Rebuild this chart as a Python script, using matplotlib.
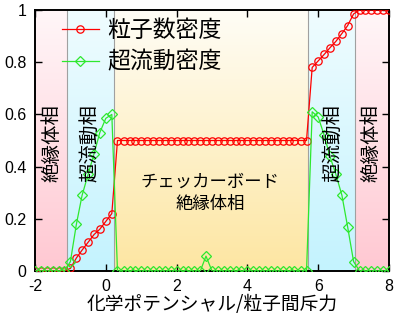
import numpy as np
import matplotlib
matplotlib.use("Agg")
import matplotlib.pyplot as plt
from matplotlib.colors import to_rgb

#  DATA
mu = [-2.00, -1.83, -1.67, -1.50, -1.33, -1.17, -1.00, -0.83, -0.67, -0.50,
      -0.33, -0.17, 0.00, 0.17, 0.33, 0.50, 0.67, 0.83, 1.00, 1.17,
      1.33, 1.50, 1.67, 1.83, 2.00, 2.17, 2.33, 2.50, 2.67, 2.83,
      3.00, 3.17, 3.33, 3.50, 3.67, 3.83, 4.00, 4.17, 4.33, 4.50,
      4.67, 4.83, 5.00, 5.17, 5.33, 5.50, 5.67, 5.83, 6.00, 6.17,
      6.33, 6.50, 6.67, 6.83, 7.00, 7.17, 7.33, 7.50, 7.67, 7.83, 8.00]

density = [0, 0, 0, 0, 0, 0,
           0.01, 0.05, 0.08, 0.11, 0.14, 0.16, 0.19, 0.22,
           0.5, 0.5, 0.5, 0.5, 0.5, 0.5, 0.5, 0.5, 0.5, 0.5, 0.5,
           0.5, 0.5, 0.5, 0.5, 0.5, 0.5, 0.5, 0.5, 0.5, 0.5, 0.5,
           0.5, 0.5, 0.5, 0.5, 0.5, 0.5, 0.5, 0.5, 0.5, 0.5, 0.5,
           0.78, 0.805, 0.83, 0.855, 0.88, 0.91, 0.94, 0.985,
           1.0, 1.0, 1.0, 1.0, 1.0, 1.0]

superfluid = [0, 0, 0, 0, 0, 0,
              0.036, 0.18, 0.29, 0.37, 0.45, 0.53, 0.585, 0.60,
              0, 0, 0, 0, 0, 0, 0, 0, 0, 0, 0, 0, 0, 0, 0,
              0.057,
              0, 0, 0, 0, 0, 0, 0, 0, 0, 0, 0, 0, 0, 0, 0, 0, 0,
              0.61, 0.59, 0.52, 0.44, 0.37, 0.29, 0.17, 0.036,
              0, 0, 0, 0, 0, 0]

series_labels = ["粒子数密度", "超流動密度"]

# phase regions: (x0, x1, bottom colour, top colour)
phase_edges = [-2.0, -1.1, 0.22, 5.72, 7.05, 8.0]
phase_colors = [("#ffc8d2", "#fff6f8"),
                ("#c4f3fe", "#effcff"),
                ("#fde6a2", "#fffdf6"),
                ("#c4f3fe", "#effcff"),
                ("#ffc8d2", "#fff6f8")]
phase_names = ["絶縁体相", "超流動相", "チェッカーボード\n絶縁体相", "超流動相", "絶縁体相"]
phase_text_x = [-1.52, -0.46, 2.94, 6.42, 7.5]
phase_text_y = [0.49, 0.49, 0.3, 0.49, 0.49]
phase_text_rot = [90, 90, 0, 90, 90]
phase_text_size = [14, 14, 12.5, 14, 14]

xlabel = "化学ポテンシャル/粒子間斥力"

#  STYLE
plt.rcParams['font.family'] = ['Noto Sans CJK JP', 'DejaVu Sans']
plt.rcParams['axes.unicode_minus'] = False

fig = plt.figure(figsize=(4.0, 3.23), dpi=100)
ax = fig.add_axes([0.0875, 0.161, 0.885, 0.808])

# gradient backgrounds
for i in range(len(phase_colors)):
    c0 = np.array(to_rgb(phase_colors[i][0]))
    c1 = np.array(to_rgb(phase_colors[i][1]))
    t = np.linspace(0, 1, 128)[:, None, None]
    grad = c0 * (1 - t) + c1 * t
    ax.imshow(grad, extent=[phase_edges[i], phase_edges[i + 1], 0, 1],
              origin='lower', aspect='auto', zorder=0, interpolation='bilinear')

for xb in phase_edges[1:-1]:
    ax.axvline(xb, color='#a0a0a0', lw=0.8, zorder=1)

ax.plot(mu, density, color='#ff0000', lw=0.9, marker='o', ms=5.3,
        mfc='none', mec='#ff0000', mew=0.9, label=series_labels[0], zorder=3)
ax.plot(mu, superfluid, color='#2ee82e', lw=0.9, marker='D', ms=5.2,
        mfc='none', mec='#2ee82e', mew=0.9, label=series_labels[1], zorder=4)

for name, tx, ty, rot, fs in zip(phase_names, phase_text_x, phase_text_y,
                                 phase_text_rot, phase_text_size):
    ax.text(tx, ty, name, rotation=rot, ha='center', va='center',
            fontsize=fs, color='black', zorder=5, linespacing=1.3)

ax.set_xlim(-2, 8)
ax.set_ylim(0, 1)
ax.set_xticks([-2, 0, 2, 4, 6, 8])
ax.set_yticks([0, 0.2, 0.4, 0.6, 0.8, 1.0])
ax.set_xticklabels(["-2", "0", "2", "4", "6", "8"])
ax.set_yticklabels(["0", "0.2", "0.4", "0.6", "0.8", "1"])
ax.tick_params(direction='in', length=5, width=1, top=True, right=True,
               labelsize=11.5, pad=6)
for lab in ax.get_xticklabels() + ax.get_yticklabels():
    lab.set_family('Liberation Sans')
for sp in ax.spines.values():
    sp.set_linewidth(1.4)

ax.set_xlabel(xlabel, fontsize=13.5, labelpad=0)

leg = ax.legend(loc='upper left', bbox_to_anchor=(0.075, 0.965), frameon=False,
                fontsize=16.5, handlelength=1.65, handletextpad=0.35,
                labelspacing=0.38, borderpad=0, borderaxespad=0)
leg.set_zorder(6)

plt.savefig("out.png", dpi=100)
